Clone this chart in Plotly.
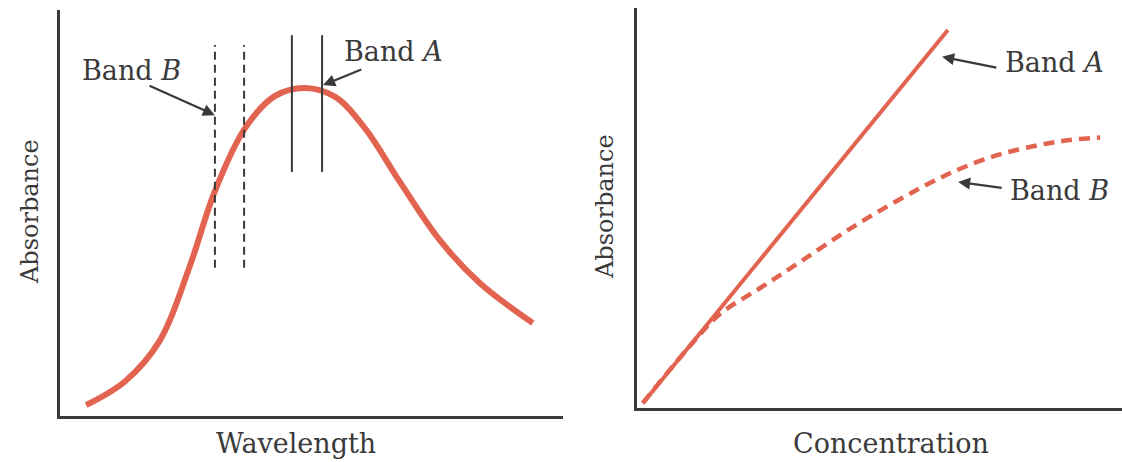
import plotly.graph_objects as go

# ---- spectrum (left panel) ----
wavelength = [0.52, 1.29, 1.99, 2.58, 3.08, 3.68, 4.27, 4.87, 5.47, 6.06, 6.76, 7.55, 8.35, 9.40]
absorbance_spec = [0.27, 0.85, 1.87, 3.69, 5.54, 7.09, 7.88, 8.08, 7.86, 7.09, 5.76, 4.33, 3.27, 2.29]

# band edges (wavelength) and vertical extent of the marker lines
band_b_edges = [3.08, 3.66]
band_b_span = [3.65, 9.14]
band_a_edges = [4.61, 5.21]
band_a_span = [6.01, 9.38]

# ---- calibration curves (right panel) ----
conc_a = [0.12, 6.41]
abs_a = [0.12, 9.45]
conc_b = [0.12, 1.09, 1.71, 2.54, 3.36, 4.39, 5.42, 6.10, 6.70, 7.48, 8.31, 8.93, 9.55]
abs_b = [0.125, 1.55, 2.35, 3.00, 3.65, 4.48, 5.22, 5.66, 6.00, 6.34, 6.58, 6.70, 6.76]

# label anchors: (text x, text y, arrow head x, arrow head y, arrow tail x, arrow tail y)
left_label_b = (1.43, 8.52, 3.08, 7.41, 1.75, 8.15)
left_label_a = (6.64, 8.97, 5.23, 8.15, 6.02, 8.55)
right_label_a = (7.55, 8.63, 6.29, 8.78, 7.44, 8.50)
right_label_b = (7.65, 5.45, 6.62, 5.65, 7.55, 5.50)

W, H = 1122, 462
RED = "#e2634f"
INK = "#3a3a3a"
FONT = "DejaVu Serif"

fig = go.Figure()

fig.add_trace(go.Scatter(x=wavelength, y=absorbance_spec, mode="lines",
                         line=dict(color=RED, width=6, shape="spline", smoothing=1.0),
                         xaxis="x", yaxis="y", hoverinfo="skip"))
for xe in band_b_edges:
    fig.add_trace(go.Scatter(x=[xe, xe], y=band_b_span, mode="lines",
                             line=dict(color=INK, width=2, dash="8px,5px"),
                             xaxis="x", yaxis="y", hoverinfo="skip"))
for xe in band_a_edges:
    fig.add_trace(go.Scatter(x=[xe, xe], y=band_a_span, mode="lines",
                             line=dict(color=INK, width=2),
                             xaxis="x", yaxis="y", hoverinfo="skip"))

fig.add_trace(go.Scatter(x=conc_b, y=abs_b, mode="lines",
                         line=dict(color=RED, width=4.5, dash="11px,7px",
                                   shape="spline", smoothing=1.0),
                         xaxis="x2", yaxis="y2", hoverinfo="skip"))
fig.add_trace(go.Scatter(x=conc_a, y=abs_a, mode="lines",
                         line=dict(color=RED, width=4),
                         xaxis="x2", yaxis="y2", hoverinfo="skip"))


def px_x(p):
    return p / W


def px_y(p):
    return 1 - p / H


axis_common = dict(range=[0, 10], showgrid=False, zeroline=False, showticklabels=False,
                   ticks="", showline=True, linecolor=INK, linewidth=3, fixedrange=True)

fig.update_layout(
    width=W, height=H,
    margin=dict(l=0, r=0, t=0, b=0),
    paper_bgcolor="white", plot_bgcolor="white",
    showlegend=False,
    font=dict(family=FONT, color=INK),
    xaxis=dict(axis_common, domain=[px_x(60), px_x(563)], anchor="y"),
    yaxis=dict(axis_common, domain=[px_y(416), px_y(10)], anchor="x"),
    xaxis2=dict(axis_common, domain=[px_x(637), 1.0], anchor="y2"),
    yaxis2=dict(axis_common, domain=[px_y(408), px_y(8)], anchor="x2"),
)

annotations = []


def band_label(text, spec, xr, yr, xanchor):
    tx, ty, hx, hy, sx, sy = spec
    annotations.append(dict(text=text, x=tx, y=ty, xref=xr, yref=yr, showarrow=False,
                            xanchor=xanchor, yanchor="middle",
                            font=dict(size=27, family=FONT, color=INK)))
    annotations.append(dict(text="", x=hx, y=hy, xref=xr, yref=yr,
                            ax=sx, ay=sy, axref=xr, ayref=yr,
                            showarrow=True, arrowhead=2, arrowsize=1.1,
                            arrowwidth=2.2, arrowcolor=INK))


band_label("Band <i>B</i>", left_label_b, "x", "y", "center")
band_label("Band <i>A</i>", left_label_a, "x", "y", "center")
band_label("Band <i>A</i>", right_label_a, "x2", "y2", "left")
band_label("Band <i>B</i>", right_label_b, "x2", "y2", "left")

# axis titles
for text, x, y, ang, size in [
    ("Absorbance", 30, 212, -90, 24),
    ("Absorbance", 605, 207, -90, 24),
    ("Wavelength", 296, 443, 0, 27),
    ("Concentration", 891, 443, 0, 27),
]:
    annotations.append(dict(text=text, x=px_x(x), y=px_y(y), xref="paper", yref="paper",
                            showarrow=False, textangle=ang, xanchor="center", yanchor="middle",
                            font=dict(size=size, family=FONT, color=INK)))

fig.update_layout(annotations=annotations)

fig.write_html("out.html")
